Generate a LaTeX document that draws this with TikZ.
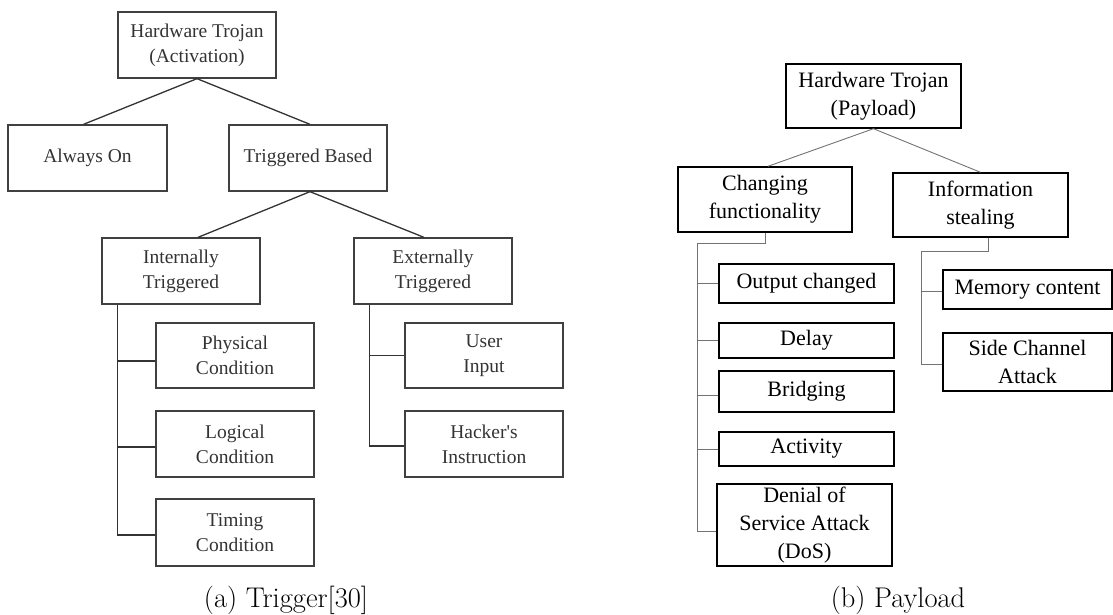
\documentclass[tikz,border=0pt]{standalone}
\usepackage{fontspec}
\newfontfamily\boxfont{Liberation Serif}
\tikzset{
  lbox/.style={draw=black!75, line width=1.3pt, inner sep=0pt, align=center,
    text=black!80, font=\boxfont\fontsize{19.5}{25}\selectfont},
  rbox/.style={draw=black, line width=1.4pt, inner sep=0pt, align=center,
    text=black, font=\boxfont\fontsize{22}{28}\selectfont},
  lconn/.style={draw=black!80, line width=1.3pt},
  rconn/.style={draw=black!55, line width=0.9pt},
  caption/.style={font=\fontsize{28.5}{32}\selectfont, inner sep=0pt}
}
\begin{document}
\begin{tikzpicture}[x=1pt, y=-1pt]
\useasboundingbox (0,0) rectangle (1113,614);

% ---------- (a) activation / trigger tree ----------
\node[lbox, minimum width=158pt, minimum height=66pt] (rootA) at (197,45) {Hardware Trojan\\(Activation)};
\node[lbox, minimum width=159pt, minimum height=66pt] (always) at (87.5,158) {Always On};
\node[lbox, minimum width=158pt, minimum height=66pt] (trig) at (308,158) {Triggered Based};
\node[lbox, minimum width=158pt, minimum height=66pt] (internal) at (181,271) {Internally\\Triggered};
\node[lbox, minimum width=158pt, minimum height=66pt] (external) at (433,271) {Externally\\Triggered};
\node[lbox, minimum width=158pt, minimum height=65pt] (physical) at (235,355.5) {Physical\\Condition};
\node[lbox, minimum width=158pt, minimum height=66pt] (logical) at (235,444) {Logical\\Condition};
\node[lbox, minimum width=158pt, minimum height=67pt] (timing) at (235,532.5) {Timing\\Condition};
\node[lbox, minimum width=158pt, minimum height=65pt] (user) at (484,355.5) {User\\Input};
\node[lbox, minimum width=158pt, minimum height=66pt] (hacker) at (484,444) {Hacker's\\Instruction};

\draw[lconn] (rootA.south) -- ([xshift=-4pt]always.north);
\draw[lconn] (rootA.south) -- ([xshift=2pt]trig.north);
\draw[lconn] ([xshift=2pt]trig.south) -- ([xshift=17pt]internal.north);
\draw[lconn] ([xshift=2pt]trig.south) -- ([xshift=-9pt]external.north);

\draw[lconn] ([xshift=16pt]internal.south west) |- ([yshift=-2.5pt]timing.west);
\draw[lconn] ([yshift=-5.5pt]physical.west) -- ++(-38,0);
\draw[lconn] ([yshift=-3pt]logical.west) -- ++(-38,0);

\draw[lconn] ([xshift=16pt]external.south west) |- ([yshift=-2pt]hacker.west);
\draw[lconn] (user.west) -- ++(-35,0);

\node[caption] (capA) at (286,600) {(a) Trigger[30]};

% ---------- (b) payload tree ----------
\node[rbox, minimum width=175pt, minimum height=64pt] (rootB) at (873.5,96) {Hardware Trojan\\(Payload)};
\node[rbox, minimum width=174pt, minimum height=65pt] (changing) at (765,199.5) {Changing\\functionality};
\node[rbox, minimum width=175pt, minimum height=64pt] (info) at (980.5,205) {Information\\stealing};
\node[rbox, minimum width=175pt, minimum height=39pt] (output) at (806.5,283.5) {Output changed};
\node[rbox, minimum width=175pt, minimum height=35pt] (delay) at (806.5,340.5) {Delay};
\node[rbox, minimum width=175pt, minimum height=41pt] (bridging) at (806.5,391.5) {Bridging};
\node[rbox, minimum width=175pt, minimum height=34pt] (activity) at (806.5,449) {Activity};
\node[rbox, minimum width=175pt, minimum height=82pt] (dos) at (804.5,525) {Denial of\\Service Attack\\(DoS)};
\node[rbox, minimum width=169pt, minimum height=39pt] (memory) at (1027.5,289.5) {Memory content};
\node[rbox, minimum width=169pt, minimum height=58pt] (side) at (1027.5,362) {Side Channel\\Attack};

\draw[rconn] (rootB.south) -- ([xshift=3pt]changing.north);
\draw[rconn] (rootB.south) -- (info.north);

\draw[rconn] (changing.south) -- ++(0,11) -| ([xshift=-19pt,yshift=-6pt]dos.west);
\draw[rconn] (output.west) -- ++(-21,0);
\draw[rconn] (delay.west) -- ++(-21,0);
\draw[rconn] ([yshift=-3.5pt]bridging.west) -- ++(-21,0);
\draw[rconn] (activity.west) -- ++(-21,0);
\draw[rconn] ([yshift=-6pt]dos.west) -- ++(-19,0);

\draw[rconn] ([xshift=8pt]info.south) -- ++(0,14) -| ([xshift=-21pt,yshift=-2pt]side.west);
\draw[rconn] ([yshift=-1.5pt]memory.west) -- ++(-21,0);
\draw[rconn] ([yshift=-2pt]side.west) -- ++(-21,0);

\node[caption] (capB) at (898,600) {(b) Payload};
\end{tikzpicture}
\end{document}
